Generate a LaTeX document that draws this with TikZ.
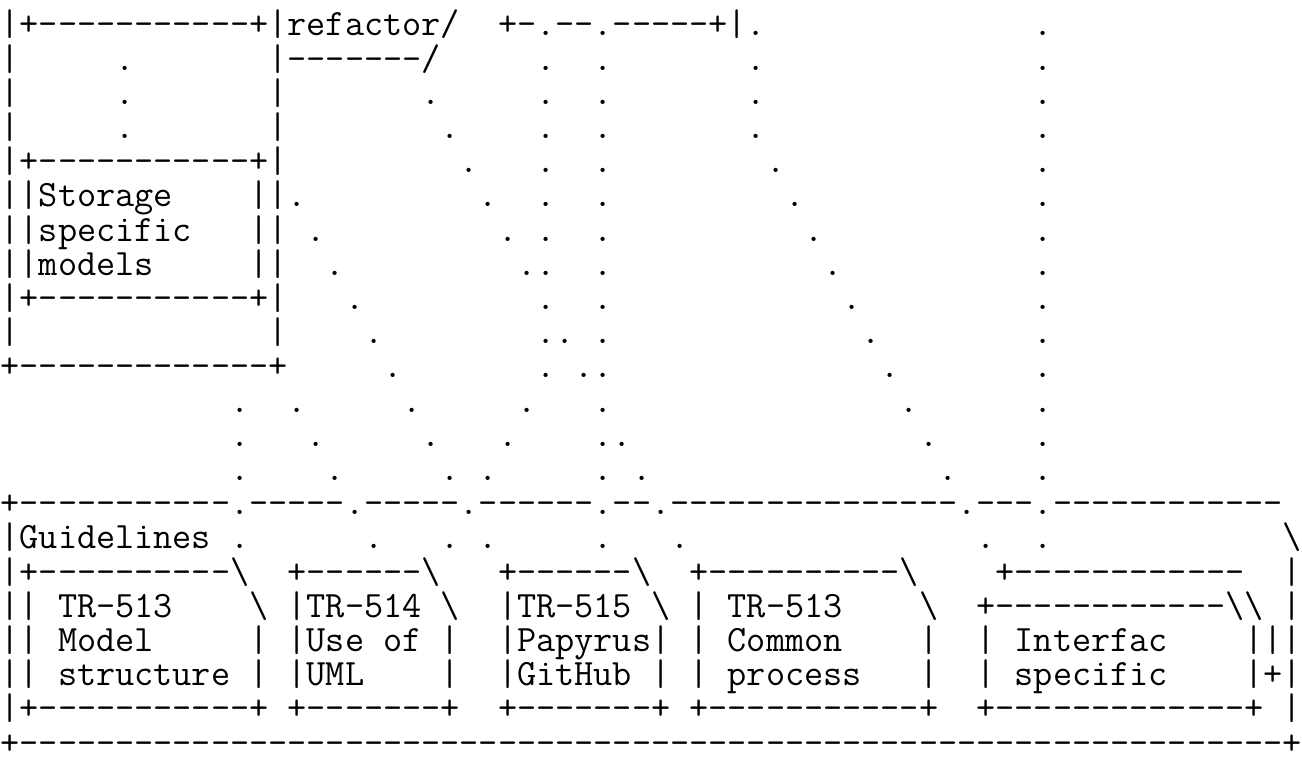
\documentclass[tikz,border=0pt]{standalone}
\newlength\chw
\settowidth\chw{\fontsize{18pt}{18pt}\ttfamily x}
\pgfmathsetmacro\asciisize{18*9.568/\chw}
\setlength\chw{9.568pt}
\newcommand\asciifont{\fontsize{\asciisize pt}{17.3pt}\ttfamily}
\newcommand\spc[1]{\hspace*{#1\chw}}
\newcommand\dashes[1]{\foreach\nd in {1,...,#1}{-}}
\newcommand\bs{\textbackslash}
\tikzset{ascii/.style={font=\asciifont,inner sep=0pt,anchor=base west}}
\begin{document}
\begin{tikzpicture}[x=0.5pt,y=0.5pt,declare function={rowtop=36; rowpitch=34.2; colleft=0.2;}]
\useasboundingbox (0,0) rectangle (1302,-758);
% one node per text line
\foreach \r/\txt in {
  1/{|+\dashes{11}+|refactor/\spc{2}+-.\dashes{2}.\dashes{5}+|.\spc{14}.},
  2/{|\spc{5}.\spc{7}|\dashes{7}/\spc{5}.\spc{2}.\spc{7}.\spc{14}.},
  3/{|\spc{5}.\spc{7}|\spc{7}.\spc{5}.\spc{2}.\spc{7}.\spc{14}.},
  4/{|\spc{5}.\spc{7}|\spc{8}.\spc{4}.\spc{2}.\spc{7}.\spc{14}.},
  5/{|+\dashes{11}+|\spc{9}.\spc{3}.\spc{2}.\spc{8}.\spc{13}.},
  6/{||Storage\spc{4}||.\spc{9}.\spc{2}.\spc{2}.\spc{9}.\spc{12}.},
  7/{||specific\spc{3}||\spc{1}.\spc{9}.\spc{1}.\spc{2}.\spc{10}.\spc{11}.},
  8/{||models\spc{5}||\spc{2}.\spc{9}..\spc{2}.\spc{11}.\spc{10}.},
  9/{|+\dashes{11}+|\spc{3}.\spc{9}.\spc{2}.\spc{12}.\spc{9}.},
  10/{|\spc{13}|\spc{4}.\spc{8}..\spc{1}.\spc{13}.\spc{8}.},
  11/{+\dashes{13}+\spc{5}.\spc{7}.\spc{1}..\spc{14}.\spc{7}.},
  12/{\spc{12}.\spc{2}.\spc{5}.\spc{5}.\spc{3}.\spc{15}.\spc{6}.},
  13/{\spc{12}.\spc{3}.\spc{5}.\spc{3}.\spc{4}..\spc{15}.\spc{5}.},
  14/{\spc{12}.\spc{4}.\spc{5}.\spc{1}.\spc{5}.\spc{1}.\spc{15}.\spc{4}.},
  15/{+\dashes{11}.\dashes{5}.\dashes{5}.\dashes{6}.\dashes{2}.\dashes{15}.\dashes{3}.\dashes{12}},
  16/{|Guidelines\spc{1}.\spc{6}.\spc{3}.\spc{1}.\spc{5}.\spc{3}.\spc{15}.\spc{2}.\spc{12}\bs},
  17/{|+\dashes{10}\bs\spc{2}+\dashes{6}\bs\spc{3}+\dashes{6}\bs\spc{2}+\dashes{10}\bs\spc{4}+\dashes{12}\spc{2}|},
  18/{||\spc{1}TR-513\spc{4}\bs\spc{1}|TR-514\spc{1}\bs\spc{2}|TR-515\spc{1}\bs\spc{1}|\spc{1}TR-513\spc{4}\bs\spc{2}+\dashes{12}\bs\bs\spc{1}|},
  19/{||\spc{1}Model\spc{5}|\spc{1}|Use\spc{1}of\spc{1}|\spc{2}|Papyrus|\spc{1}|\spc{1}Common\spc{4}|\spc{2}|\spc{1}Interfac\spc{4}|||},
  20/{||\spc{1}structure\spc{1}|\spc{1}|UML\spc{4}|\spc{2}|GitHub\spc{1}|\spc{1}|\spc{1}process\spc{3}|\spc{2}|\spc{1}specific\spc{4}|+|},
  21/{|+\dashes{11}+\spc{1}+\dashes{7}+\spc{2}+\dashes{7}+\spc{1}+\dashes{11}+\spc{2}+\dashes{13}+\spc{1}|},
  22/{+\dashes{66}+}}{
  \node[ascii] (l\r) at ({colleft},{-rowtop-(\r-1)*rowpitch}) {\txt};
}
\end{tikzpicture}
\end{document}
